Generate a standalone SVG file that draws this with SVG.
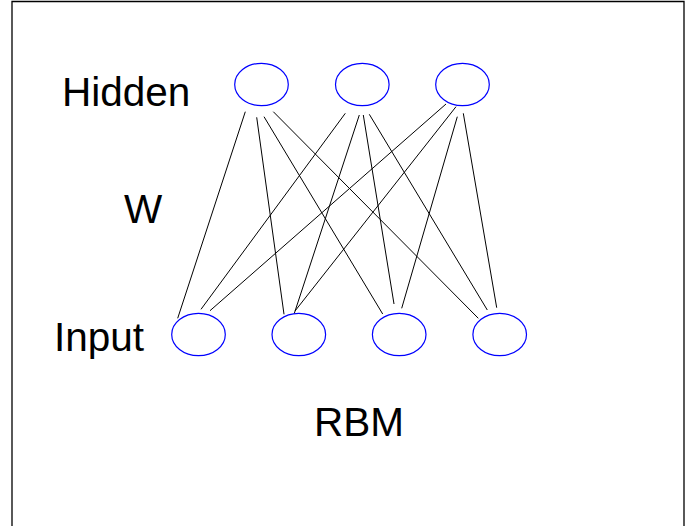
<svg xmlns="http://www.w3.org/2000/svg" width="695" height="526" viewBox="0 0 695 526">
<style>
.node{fill:#fff;stroke:#0000ff;stroke-width:1.2}
.edge{stroke:#000;stroke-width:1;fill:none}
.lbl{font-family:"Liberation Sans",Arial,sans-serif;font-size:40.5px;fill:#000}
</style>
<rect width="695" height="526" fill="#fff"/>
<path d="M12,526 V1.5 H684 V526" fill="none" stroke="#000" stroke-width="1.3"/>
<g id="connectors">
<line class="edge" x1="245.3" y1="111.7" x2="177.7" y2="318.3"/>
<line class="edge" x1="256.7" y1="117.3" x2="284" y2="314.3"/>
<line class="edge" x1="264" y1="116.7" x2="382.7" y2="314"/>
<line class="edge" x1="273.3" y1="111.7" x2="478.3" y2="318.3"/>
<line class="edge" x1="345.3" y1="113.3" x2="201" y2="309.3"/>
<line class="edge" x1="359.3" y1="115" x2="294" y2="314.3"/>
<line class="edge" x1="363.3" y1="115" x2="394" y2="304"/>
<line class="edge" x1="369.3" y1="114.3" x2="487.3" y2="310"/>
<line class="edge" x1="446" y1="104" x2="210" y2="310.7"/>
<line class="edge" x1="456" y1="106.7" x2="295" y2="311"/>
<line class="edge" x1="457.3" y1="116.7" x2="401.7" y2="308.3"/>
<line class="edge" x1="463.3" y1="113.3" x2="496.7" y2="307.7"/>
</g>
<g id="h1"><ellipse class="node" cx="261.5" cy="84.5" rx="26.8" ry="21.2"/></g>
<g id="h2"><ellipse class="node" cx="362.3" cy="84.5" rx="26.8" ry="21.2"/></g>
<g id="h3"><ellipse class="node" cx="462.5" cy="84.5" rx="26.8" ry="21.2"/></g>
<g id="i1"><ellipse class="node" cx="198.5" cy="334.5" rx="26.8" ry="21.2"/></g>
<g id="i2"><ellipse class="node" cx="298.8" cy="334.5" rx="26.8" ry="21.2"/></g>
<g id="i3"><ellipse class="node" cx="399.2" cy="334.5" rx="26.8" ry="21.2"/></g>
<g id="i4"><ellipse class="node" cx="499.7" cy="334.5" rx="26.8" ry="21.2"/></g>
<g id="labels">
<text class="lbl" x="62" y="106">Hidden</text>
<text class="lbl" x="124" y="223">W</text>
<text class="lbl" x="54" y="351">Input</text>
<text class="lbl" x="314" y="436">RBM</text>
</g>
</svg>
